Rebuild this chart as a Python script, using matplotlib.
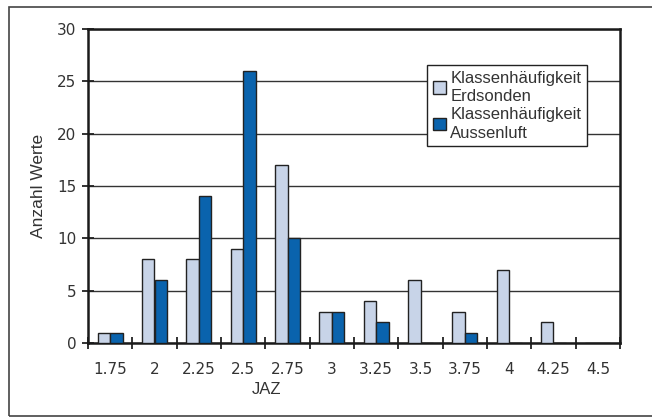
import matplotlib
matplotlib.use("Agg")
import matplotlib.pyplot as plt
import numpy as np
from matplotlib.patches import Rectangle

categories = ["1.75", "2", "2.25", "2.5", "2.75", "3", "3.25", "3.5", "3.75", "4", "4.25", "4.5"]
erdsonden = [1, 8, 8, 9, 17, 3, 4, 6, 3, 7, 2, 0]
aussenluft = [1, 6, 14, 26, 10, 3, 2, 0, 1, 0, 0, 0]

plt.rcParams['font.family'] = ['Liberation Sans', 'DejaVu Sans']

W, H = 652, 417
fig = plt.figure(figsize=(W/100, H/100), dpi=100)
ax = fig.add_axes([88/W, 1-343/H, (620-88)/W, (343-29)/H])

x = np.arange(len(categories))
bw = 0.285
ax.bar(x - bw/2, erdsonden, bw, color="#c8d4e8", edgecolor="#222222", linewidth=1.0,
       label="Klassenhäufigkeit\nErdsonden", zorder=3)
ax.bar(x + bw/2, aussenluft, bw, color="#0a63ad", edgecolor="#222222", linewidth=1.0,
       label="Klassenhäufigkeit\nAussenluft", zorder=3)

ax.set_xlim(-0.5, len(categories) - 0.5)
ax.set_ylim(0, 30)
ax.set_yticks([0, 5, 10, 15, 20, 25, 30])
ax.set_xticks(np.arange(len(categories) + 1) - 0.5)
ax.set_xticklabels([])
ax.set_xticks(x, minor=True)
ax.set_xticklabels(categories, minor=True)
ax.tick_params(axis='x', which='major', direction='inout', length=9, width=1.3, color="#222222")
ax.tick_params(axis='x', which='minor', length=0, pad=14)
ax.tick_params(axis='y', direction='inout', length=9, width=1.3, color="#222222", pad=4)
for lab in ax.get_xticklabels(minor=True) + ax.get_yticklabels():
    lab.set_fontfamily(['DejaVu Sans'])
    lab.set_fontsize(11)
    lab.set_color("#333333")
ax.yaxis.grid(True, color="#333333", linewidth=1.0, zorder=0)
ax.set_axisbelow(True)
for s in ax.spines.values():
    s.set_linewidth(1.8)
    s.set_color("#1a1a1a")

ax.set_ylabel("Anzahl Werte", fontsize=12.5, color="#333333", labelpad=8)
fig.text(267/W, 1-389/H, "JAZ", ha="center", va="center", fontsize=12, color="#333333")

leg = ax.legend(loc="upper left", bbox_to_anchor=((427-88)/(620-88), (343-65)/(343-29)),
                fontsize=12, frameon=True, fancybox=False, handlelength=0.8, handleheight=0.8,
                handletextpad=0.25, borderpad=0.35, labelspacing=0.15, borderaxespad=0)
leg.get_frame().set_edgecolor("#222222")
leg.get_frame().set_linewidth(1.0)
leg.get_frame().set_alpha(1)
for t in leg.get_texts():
    t.set_color("#333333")
    t.set_linespacing(1.3)

fig.patches.append(Rectangle((9/W, 1-416/H), (660-9)/W, (416-7)/H, transform=fig.transFigure,
                             fill=False, edgecolor="#444444", linewidth=1.2))

fig.savefig("out.png", dpi=100)
